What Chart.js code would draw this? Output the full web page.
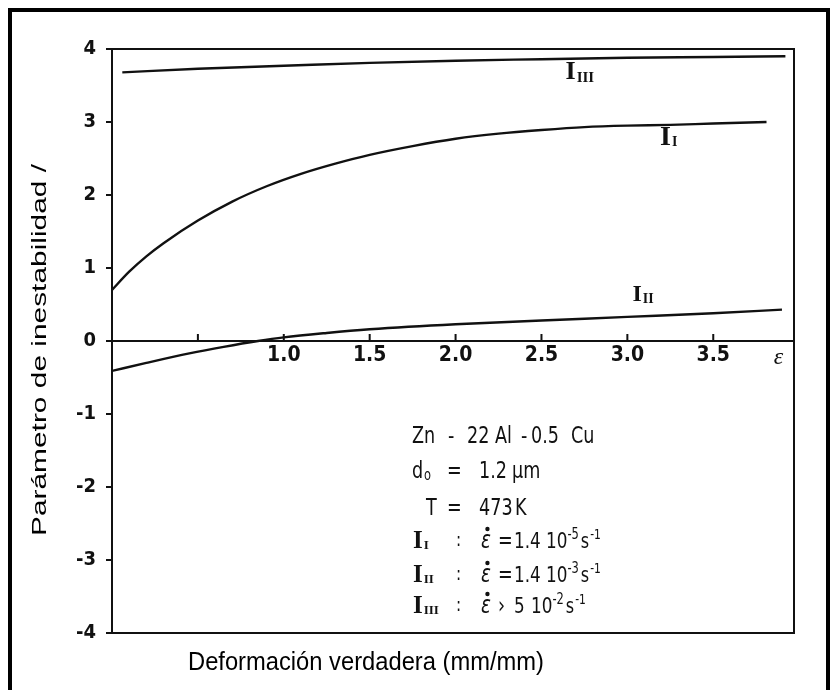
<!DOCTYPE html>
<html><head><meta charset="utf-8">
<script src="https://cdn.jsdelivr.net/npm/chart.js@4.4.1/dist/chart.umd.min.js"></script>
<style>html,body{margin:0;padding:0;background:#fff;}canvas{display:block;}</style>
</head><body>
<canvas id="c" width="832" height="690"></canvas>
<script>
// ---- data ----
const strainI   = [0, 0.1, 0.2, 0.3, 0.5, 0.7, 0.9, 1.1, 1.3, 1.5, 1.75, 2.0, 2.25, 2.5, 2.75, 3.0, 3.25, 3.5, 3.81];
const valuesI   = [0.70, 0.95, 1.16, 1.34, 1.65, 1.91, 2.12, 2.29, 2.43, 2.55, 2.67, 2.77, 2.84, 2.89, 2.93, 2.95, 2.96, 2.98, 3.00];
const strainII  = [0, 0.2, 0.45, 0.65, 0.85, 1.0, 1.25, 1.5, 2.0, 2.5, 3.0, 3.5, 3.9];
const valuesII  = [-0.41, -0.30, -0.17, -0.08, 0.0, 0.05, 0.11, 0.16, 0.23, 0.28, 0.33, 0.38, 0.43];
const strainIII = [0.06, 0.5, 1.0, 1.5, 2.0, 2.5, 3.0, 3.5, 3.92];
const valuesIII = [3.68, 3.73, 3.77, 3.81, 3.84, 3.86, 3.88, 3.89, 3.90];
const xTickValues = [0.5, 1.0, 1.5, 2.0, 2.5, 3.0, 3.5, 3.88];
const xTickLabels = ['', '1.0', '1.5', '2.0', '2.5', '3.0', '3.5', 'ε'];
const yTickValues = [-4, -3, -2, -1, 0, 1, 2, 3, 4];
const xTitle = 'Deformación verdadera (mm/mm)';
const yTitle = 'Parámetro de inestabilidad /';
const seriesNames = ['I', 'II', 'III'];

const INK = '#111';
const NARROW = '"Liberation Sans Narrow", "DejaVu Sans Condensed", "Liberation Sans", sans-serif';
const SERIF = '"Liberation Serif", "DejaVu Serif", serif';

const toPts = (xs, ys) => xs.map((v, i) => ({x: v, y: ys[i]}));
const lineDs = (label, xs, ys) => ({
  label, data: toPts(xs, ys), borderColor: INK, borderWidth: 2.4,
  pointRadius: 0, fill: false, cubicInterpolationMode: 'monotone'
});

function stretchedText(ctx, text, cx, cy, fontPx, targetW, rotate) {
  ctx.save();
  ctx.font = fontPx + 'px "Liberation Sans", Arial, sans-serif';
  const w = ctx.measureText(text).width;
  ctx.translate(cx, cy);
  if (rotate) ctx.rotate(-Math.PI / 2);
  ctx.scale(targetW / w, 1);
  ctx.textAlign = 'center'; ctx.textBaseline = 'middle';
  ctx.fillStyle = '#000';
  ctx.fillText(text, 0, 0);
  ctx.restore();
}

function roman(ctx, px, pyTop, sub, mainPx, subPx) {
  ctx.save();
  ctx.fillStyle = INK;
  ctx.textBaseline = 'top'; ctx.textAlign = 'left';
  ctx.font = 'bold ' + mainPx + 'px ' + SERIF;
  ctx.fillText('I', px, pyTop);
  const w = ctx.measureText('I').width;
  ctx.font = 'bold ' + subPx + 'px ' + SERIF;
  ctx.fillText(sub, px + w + 1, pyTop + mainPx * 0.42);
  ctx.restore();
}

const HS = 0.85;
function seg(ctx, txt, x, base, px, italic) {
  ctx.save();
  ctx.font = (italic ? 'italic ' : '') + px + 'px ' + NARROW;
  const w = ctx.measureText(txt).width * HS;
  ctx.translate(x, base);
  ctx.scale(HS, 1);
  ctx.fillText(txt, 0, 0);
  ctx.restore();
  return w;
}

function epsDot(ctx, x, base) {
  const w = seg(ctx, 'ε', x, base, 24, true);
  ctx.beginPath();
  ctx.arc(x + w * 0.65, base - 19, 2.2, 0, Math.PI * 2);
  ctx.fill();
}

const decor = {
  id: 'decor',
  afterDraw(chart) {
    const {ctx, chartArea: a, scales: {x, y}} = chart;
    ctx.save();
    // frame: top, right, bottom
    ctx.strokeStyle = INK; ctx.lineWidth = 2;
    ctx.beginPath();
    ctx.moveTo(a.left, a.top); ctx.lineTo(a.right, a.top);
    ctx.lineTo(a.right, a.bottom); ctx.lineTo(a.left - 1, a.bottom);
    ctx.stroke();
    // x tick marks pointing up from the zero line
    const y0 = y.getPixelForValue(0);
    ctx.beginPath();
    xTickValues.slice(0, 7).forEach(v => {
      const px = x.getPixelForValue(v);
      ctx.moveTo(px, y0); ctx.lineTo(px, y0 - 7);
    });
    ctx.stroke();

    // curve labels
    roman(ctx, x.getPixelForValue(2.64), y.getPixelForValue(3.84) - 1, seriesNames[2], 26, 15);
    roman(ctx, x.getPixelForValue(3.19), y.getPixelForValue(2.96) - 1, seriesNames[0], 28, 14);
    roman(ctx, x.getPixelForValue(3.03), y.getPixelForValue(0.80), seriesNames[1], 24, 14);

    // annotation block (offsets from the plot's top-left corner)
    ctx.fillStyle = INK; ctx.textBaseline = 'alphabetic'; ctx.textAlign = 'left';
    const L = a.left;
    const T = a.top;
    const F = 23;
    let b = T + 394;
    seg(ctx, 'Zn', L + 300, b, F);
    seg(ctx, '-', L + 336, b, F);
    seg(ctx, '22', L + 355, b, F);
    seg(ctx, 'Al', L + 383, b, F);
    seg(ctx, '-', L + 409, b, F);
    seg(ctx, '0.5', L + 419, b, F);
    seg(ctx, 'Cu', L + 459, b, F);
    b = T + 429;
    seg(ctx, 'd', L + 300, b, F);
    seg(ctx, 'o', L + 312, b + 2, 15);
    seg(ctx, '=', L + 335, b, F);
    seg(ctx, '1.2', L + 367, b, F);
    seg(ctx, 'µm', L + 400, b, F);
    b = T + 466;
    seg(ctx, 'T', L + 314, b, F);
    seg(ctx, '=', L + 335, b, F);
    seg(ctx, '473', L + 367, b, F);
    seg(ctx, 'K', L + 403, b, F);

    const rateRows = [
      {sub: seriesNames[0], base: T + 499, rel: '=', coef: '1.4', exp: '-5', cx: 402, tx: 434},
      {sub: seriesNames[1], base: T + 533, rel: '=', coef: '1.4', exp: '-3', cx: 402, tx: 434},
      {sub: seriesNames[2], base: T + 564, rel: '›', coef: '5', exp: '-2', cx: 402, tx: 419}
    ];
    rateRows.forEach(r => {
      roman(ctx, L + 301, r.base - 19, r.sub, 25, 13);
      ctx.fillStyle = INK; ctx.textBaseline = 'alphabetic'; ctx.textAlign = 'left';
      seg(ctx, ':', L + 344, r.base - 2, 20);
      epsDot(ctx, L + 369, r.base);
      seg(ctx, r.rel, L + 386, r.base, F);
      seg(ctx, r.coef, L + r.cx, r.base, 22);
      const x10 = L + r.tx;
      const w10 = seg(ctx, '10', x10, r.base, 22);
      const we = seg(ctx, r.exp, x10 + w10, r.base - 9, 15);
      const ws = seg(ctx, 's', x10 + w10 + we + 2, r.base, 21);
      seg(ctx, '-1', x10 + w10 + we + ws + 3, r.base - 9, 14);
    });

    // axis titles
    stretchedText(ctx, xTitle, 366, 663, 25, 356, false);
    stretchedText(ctx, yTitle, 40, 350, 21, 372, true);

    // outer border
    ctx.strokeStyle = '#000'; ctx.lineWidth = 4;
    ctx.strokeRect(10, 10, 818, 720);
    ctx.restore();
  }
};

new Chart(document.getElementById('c'), {
  type: 'line',
  data: {
    datasets: [
      lineDs('I', strainI, valuesI),
      lineDs('II', strainII, valuesII),
      lineDs('III', strainIII, valuesIII)
    ]
  },
  options: {
    responsive: false, animation: false,
    layout: {padding: {left: 0, top: 49, right: 38, bottom: 57}},
    plugins: {legend: {display: false}, tooltip: {enabled: false}},
    scales: {
      x: {
        type: 'linear', min: 0, max: 3.97,
        position: {y: 0},
        grid: {display: false, drawTicks: false},
        border: {display: true, color: INK, width: 2},
        afterBuildTicks: s => { s.ticks = xTickValues.map(v => ({value: v})); },
        ticks: {
          autoSkip: false, maxRotation: 0, padding: 2, color: INK,
          font: c => (c.index === 7
            ? {family: SERIF, size: 24, style: 'italic'}
            : {family: NARROW, size: 21, weight: 'bold'}),
          callback: (v, i) => xTickLabels[i]
        }
      },
      y: {
        type: 'linear', min: -4, max: 4,
        grid: {display: true, drawOnChartArea: false, drawTicks: true, tickLength: 6, color: INK, lineWidth: 2},
        border: {display: true, color: INK, width: 2},
        afterBuildTicks: s => { s.ticks = yTickValues.map(v => ({value: v})); },
        afterFit: s => { s.width = 112; },
        ticks: {
          padding: 10, color: INK,
          font: {family: NARROW, size: 20, weight: 'bold'},
          callback: v => String(v)
        }
      }
    }
  },
  plugins: [decor]
});
</script>
</body></html>
